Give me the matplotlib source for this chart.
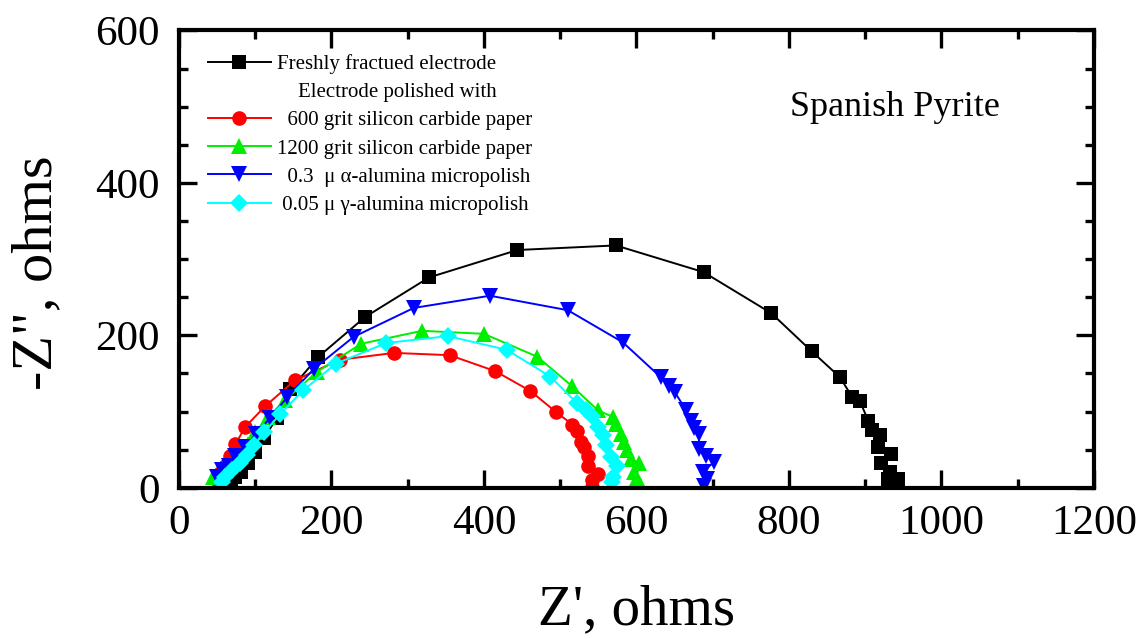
import matplotlib
matplotlib.use("Agg")
import matplotlib.pyplot as plt
from matplotlib.lines import Line2D
from matplotlib.ticker import MultipleLocator

plt.rcParams['font.family'] = ['Liberation Serif', 'DejaVu Serif']

# Nyquist data (Z', -Z'') in ohms for each surface preparation
fresh_x = [68, 74, 82, 91, 100, 112, 128, 146, 183, 244, 328, 444, 573, 688, 777,
           830, 867, 883, 893, 904, 909, 919, 917, 934, 921, 932, 943, 930]
fresh_y = [8, 14, 21, 32, 47, 66, 91, 129, 172, 224, 276, 312, 318, 283, 229,
           179, 145, 119, 114, 88, 76, 69, 53, 45, 32, 21, 12, 12]

sic600_x = [50, 54, 60, 67, 74, 87, 113, 152, 211, 282, 355, 415, 461, 495, 516,
            522, 527, 531, 536, 536, 549, 542, 542]
sic600_y = [10, 19, 28, 42, 57, 80, 107, 141, 168, 177, 174, 153, 127, 99, 83,
            74, 60, 53, 42, 29, 18, 10, 1]

sic1200_x = [45, 54, 67, 78, 91, 100, 117, 139, 181, 239, 319, 400, 470, 516, 549,
             569, 573, 580, 584, 588, 593, 604, 597, 599, 606]
sic1200_y = [14, 21, 29, 42, 58, 73, 93, 115, 152, 189, 206, 202, 172, 133, 102,
             93, 84, 71, 60, 49, 38, 32, 21, 10, 3]

alpha_x = [56, 50, 56, 65, 74, 87, 101, 119, 142, 177, 229, 308, 408, 510, 582,
           632, 643, 650, 665, 672, 676, 682, 682, 691, 702, 687, 693, 689]
alpha_y = [3, 14, 23, 29, 42, 53, 71, 91, 119, 156, 198, 236, 252, 233, 191,
           145, 134, 126, 102, 88, 78, 71, 51, 42, 34, 21, 12, 3]

gamma_x = [56, 60, 69, 80, 89, 99, 112, 133, 163, 206, 272, 353, 430, 487, 522,
           534, 542, 549, 556, 560, 566, 575, 569, 568]
gamma_y = [7, 14, 23, 32, 43, 56, 73, 97, 128, 163, 190, 199, 181, 146, 111,
           102, 94, 80, 69, 56, 40, 29, 14, 7]

labels = ["Freshly fractued electrode",
          "  600 grit silicon carbide paper",
          "1200 grit silicon carbide paper",
          "  0.3  \u03bc \u03b1-alumina micropolish",
          " 0.05 \u03bc \u03b3-alumina micropolish"]
subheading = "    Electrode polished with"

x_ticks = [0, 200, 400, 600, 800, 1000, 1200]
y_ticks = [0, 200, 400, 600]

series = [
    (fresh_x, fresh_y, 'black', 's', 10),
    (sic600_x, sic600_y, '#ff0000', 'o', 10.5),
    (sic1200_x, sic1200_y, '#00ee00', '^', 11.5),
    (alpha_x, alpha_y, '#0000ff', 'v', 11.5),
    (gamma_x, gamma_y, '#00ffff', 'D', 9.5),
]

fig = plt.figure(figsize=(11.42, 6.39), dpi=100)
ax = fig.add_axes([0.1567, 0.2366, 0.8012, 0.7157])

handles = []
for (xs, ys, col, mk, ms), lab in zip(series, labels):
    h, = ax.plot(xs, ys, color=col, marker=mk, markersize=ms, linewidth=1.4,
                 markeredgewidth=0, label=lab)
    handles.append(h)

ax.set_xlim(0, 1200)
ax.set_ylim(0, 600)
ax.set_xticks(x_ticks)
ax.set_yticks(y_ticks)
ax.xaxis.set_minor_locator(MultipleLocator(100))
ax.yaxis.set_minor_locator(MultipleLocator(50))

for side in ax.spines.values():
    side.set_linewidth(3)
ax.tick_params(which='both', direction='in', top=True, right=True, width=2.4)
ax.tick_params(which='major', length=13)
ax.tick_params(which='minor', length=6.5)
ax.tick_params(axis='x', which='major', labelsize=31, pad=12)
ax.tick_params(axis='y', which='major', labelsize=31, pad=14)

ax.set_xlabel("Z', ohms", fontsize=41, va='center')
ax.xaxis.set_label_coords(0.5, -0.268)
ax.set_ylabel('-Z", ohms', fontsize=42, va='center')
ax.yaxis.set_label_coords(-0.155, 0.47)

ax.text(0.782, 0.832, "Spanish Pyrite", transform=ax.transAxes,
        fontsize=26, ha='center', va='center')

blank = Line2D([], [], linestyle='none', marker='none')
leg_handles = [handles[0], blank] + handles[1:]
leg_labels = [labels[0], subheading] + labels[1:]
ax.legend(leg_handles, leg_labels, loc='upper left', bbox_to_anchor=(0.032, 0.948),
          frameon=False, fontsize=15, handlelength=3.0, handletextpad=0.3,
          labelspacing=0.41, borderpad=0, borderaxespad=0)

fig.savefig("out.png", dpi=100)
